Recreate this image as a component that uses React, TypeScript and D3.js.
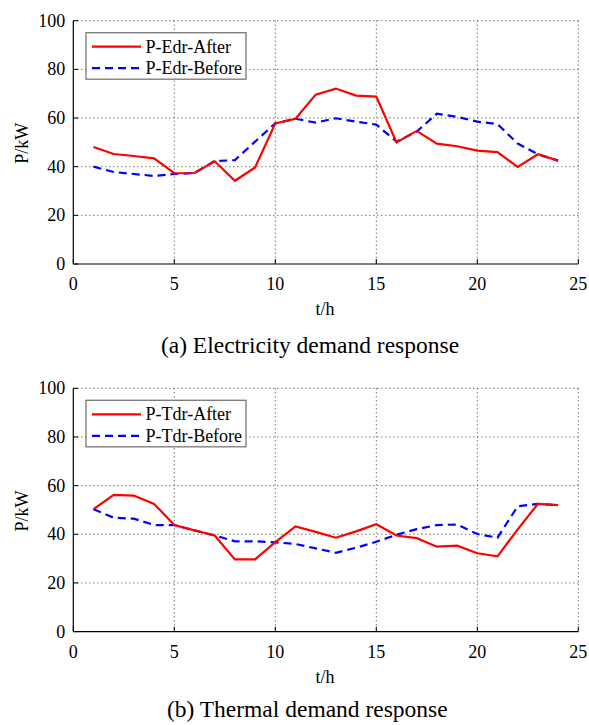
import React from "react";
import * as d3 from "d3";

const hours = [1,2,3,4,5,6,7,8,9,10,11,12,13,14,15,16,17,18,19,20,21,22,23,24];
const edrAfter = [48.1,45.2,44.4,43.4,37.3,37.4,42.2,34.2,39.7,57.8,59.7,69.6,72.1,69.2,68.8,50.0,54.7,49.5,48.4,46.6,46.0,39.9,45.1,42.5];
const edrBefore = [40.0,37.8,37.0,36.2,37.0,37.4,42.3,42.7,50.3,57.8,59.7,58.1,59.9,58.5,57.3,50.3,54.4,61.8,60.5,58.5,57.5,49.5,45.1,42.5];
const tdrAfter = [50.3,56.2,55.9,52.5,43.8,41.6,39.5,29.7,29.7,36.8,43.2,41.0,38.6,41.2,44.1,39.5,38.4,34.9,35.3,32.2,30.9,42.0,52.5,52.0];
const tdrBefore = [50.3,46.8,46.4,43.8,43.8,41.6,39.5,37.1,37.1,36.7,36.0,34.2,32.4,34.5,36.9,39.8,42.1,43.8,44.0,40.1,38.6,51.5,52.5,52.0];
const xTicks = [0,5,10,15,20,25];
const yTicks = [0,20,40,60,80,100];

const FONT = "Liberation Serif, DejaVu Serif, serif";

type PanelProps = {
  top: number;
  after: number[];
  before: number[];
  afterLabel: string;
  beforeLabel: string;
  title: string;
  titleX: number;
  titleDy: number;
};

function Panel({ top, after, before, afterLabel, beforeLabel, title, titleX, titleDy }: PanelProps) {
  const left = 73.3, right = 578.3;
  const plotTop = top, plotBottom = top + 243.3;
  const x = d3.scaleLinear().domain([0, 25]).range([left, right]);
  const y = d3.scaleLinear().domain([0, 100]).range([plotBottom, plotTop]);
  const line = d3.line<number>().x((_, i) => x(hours[i])).y((d) => y(d));
  const lx = 86, ly = plotTop + 12;
  const ts = { fontFamily: FONT, fontSize: 18 };
  return (
    <g>
      {xTicks.filter((t) => t > 0).map((t) => (
        <line key={"gx" + t} x1={x(t)} x2={x(t)} y1={plotTop} y2={plotBottom}
          stroke="#333" strokeWidth={1} strokeDasharray="1,3" />
      ))}
      {yTicks.filter((t) => t > 0).map((t) => (
        <line key={"gy" + t} x1={left} x2={right} y1={y(t)} y2={y(t)}
          stroke="#333" strokeWidth={1} strokeDasharray="1,3" />
      ))}
      <line x1={left} x2={left} y1={plotTop} y2={plotBottom} stroke="#000" strokeWidth={1.2} />
      <line x1={left} x2={right} y1={plotBottom} y2={plotBottom} stroke="#000" strokeWidth={1.2} />
      {xTicks.map((t) => (
        <g key={"xt" + t}>
          <line x1={x(t)} x2={x(t)} y1={plotBottom} y2={plotBottom - 5} stroke="#000" strokeWidth={1} />
          <text x={x(t)} y={plotBottom + 26} textAnchor="middle" style={ts}>{t}</text>
        </g>
      ))}
      {yTicks.map((t) => (
        <g key={"yt" + t}>
          <line x1={left} x2={left + 5} y1={y(t)} y2={y(t)} stroke="#000" strokeWidth={1} />
          <text x={left - 8} y={y(t) + 6} textAnchor="end" style={ts}>{t}</text>
        </g>
      ))}
      <path d={line(before) || ""} fill="none" stroke="#0000ff" strokeWidth={2.2} strokeDasharray="8,5" />
      <path d={line(after) || ""} fill="none" stroke="#ff0000" strokeWidth={2.2} />
      <rect x={lx} y={ly} width={160} height={46.5} fill="#fff" stroke="#777" strokeWidth={1.3} />
      <line x1={92} x2={141} y1={ly + 14} y2={ly + 14} stroke="#ff0000" strokeWidth={2.2} />
      <line x1={92} x2={141} y1={ly + 35.5} y2={ly + 35.5} stroke="#0000ff" strokeWidth={2.2} strokeDasharray="8,5" />
      <text x={145.5} y={ly + 20} style={ts}>{afterLabel}</text>
      <text x={145.5} y={ly + 41.5} style={ts}>{beforeLabel}</text>
      <text x={325} y={plotBottom + 51} textAnchor="middle" style={ts}>t/h</text>
      <text transform={`translate(28,${(plotTop + plotBottom) / 2 + 1}) rotate(-90)`} textAnchor="middle"
        style={ts}>P/kW</text>
      <text x={titleX} y={plotBottom + titleDy} textAnchor="middle" style={{ fontFamily: FONT, fontSize: 23.5 }}>{title}</text>
    </g>
  );
}

export default function App() {
  return (
    <svg width={589} height={725} style={{ position: "absolute", left: 0, top: 0, background: "#fff" }}>
      <rect x={0} y={0} width={589} height={725} fill="#fff" />
      <Panel top={20.7} after={edrAfter} before={edrBefore} afterLabel="P-Edr-After" beforeLabel="P-Edr-Before"
        title="(a) Electricity demand response" titleX={310} titleDy={89.3} />
      <Panel top={388.3} after={tdrAfter} before={tdrBefore} afterLabel="P-Tdr-After" beforeLabel="P-Tdr-Before"
        title="(b) Thermal demand response" titleX={307.3} titleDy={85} />
    </svg>
  );
}
